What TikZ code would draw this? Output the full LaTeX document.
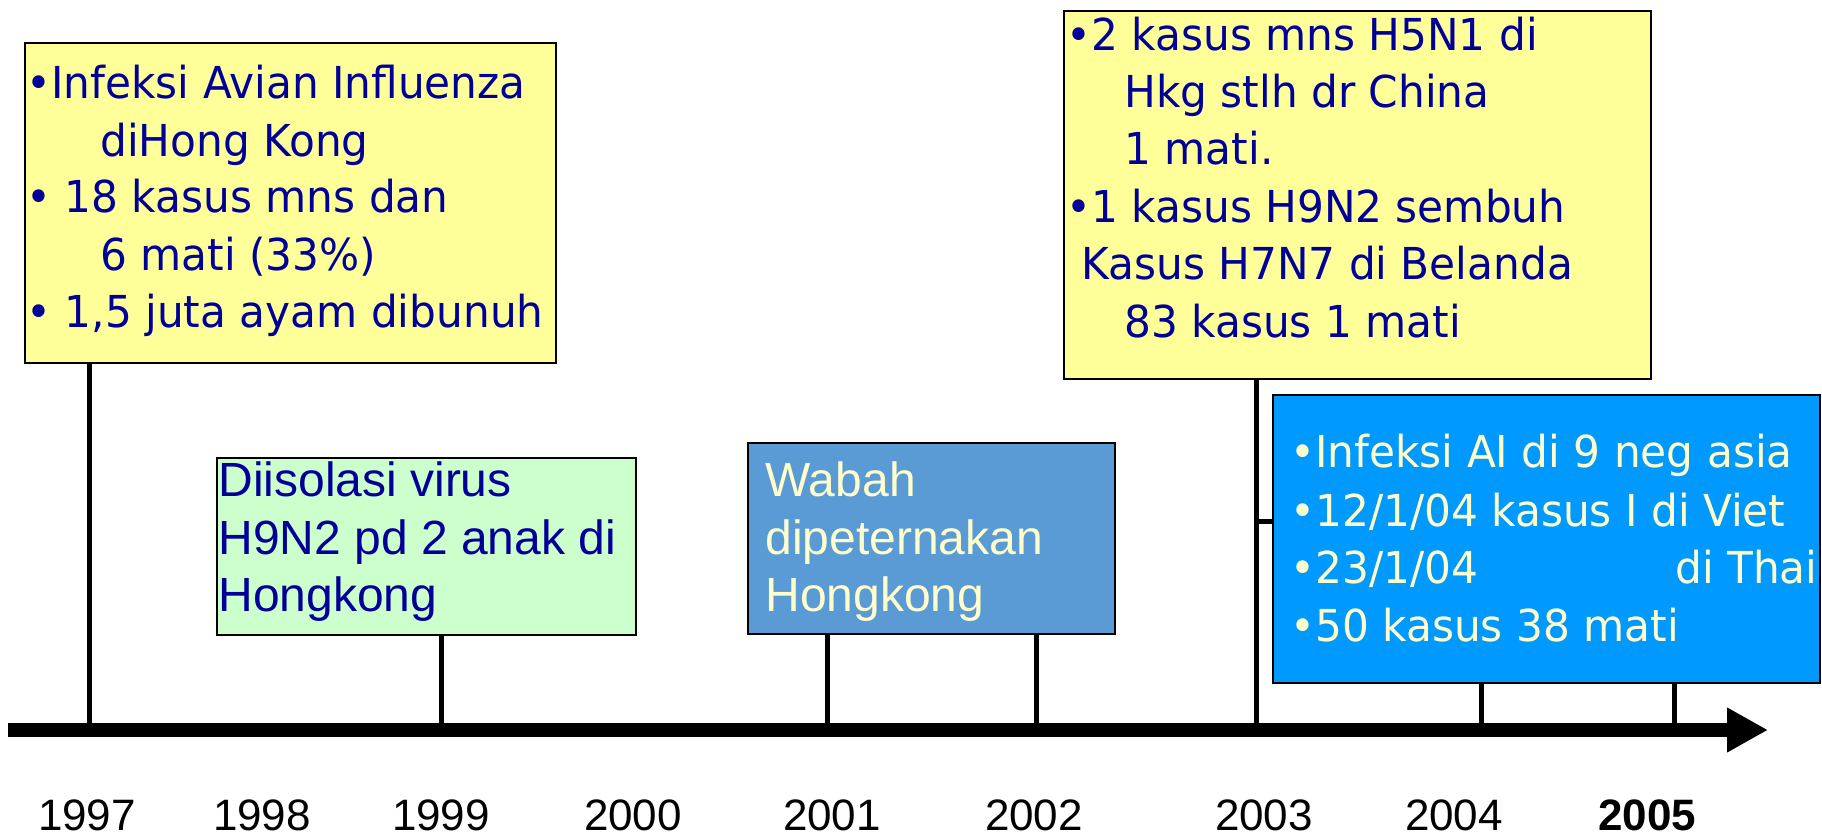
\documentclass[tikz,border=0pt]{standalone}
\usepackage{fontspec}
\usetikzlibrary{arrows.meta}
\newfontfamily\tahf[FakeStretch=0.96]{DejaVu Sans}
\newfontfamily\arif{Liberation Sans}
\definecolor{ylw}{HTML}{FFFF99}
\definecolor{grn}{HTML}{CCFFCC}
\definecolor{stl}{HTML}{5B9BD5}
\definecolor{sky}{HTML}{0099FF}
\definecolor{txtblue}{HTML}{000099}
\definecolor{cream}{HTML}{FFFFCC}
\tikzset{
  boxstyle/.style={draw=black, line width=1pt, inner sep=0pt, anchor=north west},
  tline/.style={inner sep=0pt, anchor=base west, font=\tahf\fontsize{22}{26}\selectfont},
  aline/.style={inner sep=0pt, anchor=base west, font=\arif\fontsize{24}{28}\selectfont},
  yearlbl/.style={inner sep=0pt, anchor=base, font=\arif\fontsize{22}{26}\selectfont},
  conn/.style={line width=2.5pt},
  axisline/.style={line width=7pt, -{Triangle[length=20.5pt,width=21pt]}}
}
\begin{document}
\begin{tikzpicture}[x=0.5pt,y=-0.5pt]
\useasboundingbox (0,0) rectangle (1822,838);
\fill[white] (0,0) rectangle (1822,838);

% axis coordinates
\coordinate (ax0) at (8,730);
\coordinate (ax1) at (1768,730);
\coordinate (a1997) at (89,730);
\coordinate (a1999) at (441,730);
\coordinate (a2001) at (827,730);
\coordinate (a2002) at (1036,730);
\coordinate (a2003) at (1256,730);
\coordinate (a2004) at (1481,730);
\coordinate (a2005) at (1674,730);

% boxes
\node[boxstyle, fill=ylw, minimum width=265.5pt, minimum height=160pt] (b1) at (24,42) {};
\node[boxstyle, fill=grn, minimum width=209.5pt, minimum height=88.5pt] (b2) at (216,457) {};
\node[boxstyle, fill=stl, minimum width=183.5pt, minimum height=95.5pt] (b3) at (747,442) {};
\node[boxstyle, fill=ylw, minimum width=293.5pt, minimum height=184pt] (b4) at (1063,10) {};
\node[boxstyle, fill=sky, minimum width=273.5pt, minimum height=144pt] (b5) at (1272,394) {};

% connectors
\draw[conn] (b1.south -| a1997) -- (a1997);
\draw[conn] (b2.south -| a1999) -- (a1999);
\draw[conn] (b3.south -| a2001) -- (a2001);
\draw[conn] (b3.south -| a2002) -- (a2002);
\draw[conn] (b4.south -| a2003) -- (a2003);
\draw[conn] (b5.south -| a2004) -- (a2004);
\draw[conn] (b5.south -| a2005) -- (a2005);
\coordinate (k3) at (1256,522);
\draw[conn] (k3) -- (k3 -| b5.west);

% axis
\draw[axisline] (ax0) -- (ax1);

% box 1 text
\begin{scope}[every node/.append style={text=txtblue}]
\node[tline] (t11) at (26,99) {•Infeksi Avian Influenza};
\node[tline] (t12) at (100,157) {diHong Kong};
\node[tline] (t13) at (26,213) {• 18 kasus mns dan};
\node[tline] (t14) at (100,271) {6 mati (33\%)};
\node[tline] (t15) at (26,328) {• 1,5 juta ayam dibunuh};
% box 4 text
\node[tline] (t41) at (1066,51) {•2 kasus mns H5N1 di};
\node[tline] (t42) at (1124,108) {Hkg stlh dr China};
\node[tline] (t43) at (1124,165) {1 mati.};
\node[tline] (t44) at (1066,223) {•1 kasus H9N2 sembuh};
\node[tline] (t45) at (1081,280) {Kasus H7N7 di Belanda};
\node[tline] (t46) at (1124,338) {83 kasus 1 mati};
% box 2 text
\node[aline] (t21) at (218,497) {Diisolasi virus};
\node[aline] (t22) at (218,555) {H9N2 pd 2 anak di};
\node[aline] (t23) at (218,612) {Hongkong};
\end{scope}

\begin{scope}[every node/.append style={text=cream}]
% box 3 text
\node[aline] (t31) at (765,497) {Wabah};
\node[aline] (t32) at (765,555) {dipeternakan};
\node[aline] (t33) at (765,612) {Hongkong};
% box 5 text
\node[tline] (t51) at (1290,468) {•Infeksi AI di 9 neg asia};
\node[tline] (t52) at (1290,527) {•12/1/04 kasus I di Viet};
\node[tline] (t53) at (1290,584) {\makebox[192.5pt][l]{•23/1/04}di Thai};
\node[tline] (t54) at (1290,642) {•50 kasus 38 mati};
\end{scope}

% years
\node[yearlbl] (y1997) at (87,831) {1997};
\node[yearlbl] (y1998) at (262,831) {1998};
\node[yearlbl] (y1999) at (441,831) {1999};
\node[yearlbl] (y2000) at (633,831) {2000};
\node[yearlbl] (y2001) at (832,831) {2001};
\node[yearlbl] (y2002) at (1034,831) {2002};
\node[yearlbl] (y2003) at (1264,831) {2003};
\node[yearlbl] (y2004) at (1454,831) {2004};
\node[yearlbl, font=\arif\bfseries\fontsize{22}{26}\selectfont] (y2005) at (1647,831) {2005};
\end{tikzpicture}
\end{document}
